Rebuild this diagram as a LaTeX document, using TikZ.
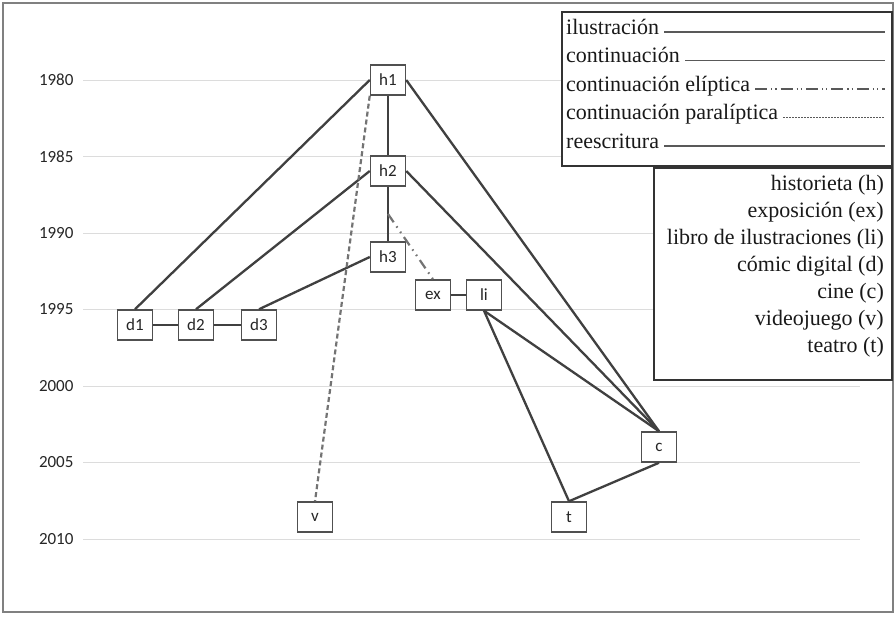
\documentclass[tikz,border=0pt]{standalone}
\usepackage{fontspec}
\setmainfont{Liberation Serif}
\newfontfamily\carl{Carlito}
\usetikzlibrary{calc}
\definecolor{edgec}{HTML}{404040}
\definecolor{gridc}{HTML}{DCDCDC}
\definecolor{boxc}{HTML}{505050}
\tikzset{
  yr/.style={anchor=east,font=\carl\fontsize{17}{17}\selectfont,text=black!85},
  gridl/.style={draw=gridc,line width=1pt},
  nd/.style={draw=boxc,line width=1.5pt,fill=white,minimum width=35pt,minimum height=30pt,inner sep=0pt,font=\carl\fontsize{17}{17}\selectfont,text=black!85},
  edge/.style={draw=edgec,line width=2.3pt},
  para/.style={draw=black!55,line width=2.2pt,dash pattern=on 5pt off 3pt},
  elip/.style={draw=black!55,line width=2.2pt,dash pattern=on 10pt off 5pt on 1.5pt off 5pt on 1.5pt off 5pt},
  legbox/.style={draw=black!80,line width=1.6pt,fill=white},
  legtxt/.style={font=\fontsize{22}{22}\selectfont,inner sep=0pt,text=black!90},
  legline/.style={draw=black!65,line width=1.5pt},
}
\begin{document}
\begin{tikzpicture}[x=1pt,y=-1pt]
\useasboundingbox (0,0) rectangle (896,616);
\fill[white] (0,0) rectangle (896,616);
\draw[black!50,line width=2pt] (3,3) rectangle (893,612);
% grid
\foreach \yy/\lab in {80/1980,156.5/1985,233/1990,309.5/1995,386/2000,462.5/2005,539/2010}{
  \draw[gridl] (83,\yy) -- (860,\yy);
  \node[yr] (y\lab) at (77,\yy) {\lab};
}
% legends
\draw[legbox] (562,12) rectangle (892,166);
\node[legtxt,anchor=mid west] (l1) at (566,32) {ilustración};
\node[legtxt,anchor=mid west] (l2) at (566,60.5) {continuación};
\node[legtxt,anchor=mid west] (l3) at (566,89) {continuación elíptica};
\node[legtxt,anchor=mid west] (l4) at (566,117.5) {continuación paralíptica};
\node[legtxt,anchor=mid west] (l5) at (566,146) {reescritura};
\coordinate (e1) at (885,32);
\coordinate (e2) at (885,60.5);
\coordinate (e3) at (885,89);
\coordinate (e4) at (885,117.5);
\coordinate (e5) at (885,146);
\draw[legline] ([xshift=5pt]l1.mid east) -- (e1);
\draw[legline] ([xshift=5pt]l2.mid east) -- (e2);
\draw[legline,dash pattern=on 12pt off 4pt on 1.2pt off 3pt on 1.2pt off 4pt] ([xshift=5pt]l3.mid east) -- (e3);
\draw[legline,line width=1pt,dash pattern=on 2pt off 1pt] ([xshift=5pt]l4.mid east) -- (e4);
\draw[legline] ([xshift=5pt]l5.mid east) -- (e5);
\draw[legbox] (654,168) rectangle (892,380);
\node[legtxt,anchor=mid east] (k1) at (884,188) {historieta (h)};
\node[legtxt,anchor=mid east] (k2) at (884,215) {exposición (ex)};
\node[legtxt,anchor=mid east] (k3) at (884,242) {libro de ilustraciones (li)};
\node[legtxt,anchor=mid east] (k4) at (884,269) {cómic digital (d)};
\node[legtxt,anchor=mid east] (k5) at (884,296) {cine (c)};
\node[legtxt,anchor=mid east] (k6) at (884,323) {videojuego (v)};
\node[legtxt,anchor=mid east] (k7) at (884,350) {teatro (t)};
% nodes
\node[nd] (h1) at (388,80) {h1};
\node[nd] (h2) at (388,171) {h2};
\node[nd] (h3) at (388,257) {h3};
\node[nd] (ex) at (433,295) {ex};
\node[nd] (li) at (484,295) {li};
\node[nd] (d1) at (135,325) {d1};
\node[nd] (d2) at (196,325) {d2};
\node[nd] (d3) at (259,325) {d3};
\node[nd] (v) at (315,517) {v};
\node[nd] (t) at (569,517) {t};
\node[nd] (c) at (659,447) {c};
% edges
\draw[edge] (d1.north) -- (h1.west);
\draw[edge] (d2.north) -- (h2.west);
\draw[edge] (d3.north) -- (h3.west);
\draw[edge] (d1) -- (d2);
\draw[edge] (d2) -- (d3);
\draw[edge] (h1) -- (h2);
\draw[edge] (h2) -- (h3);
\draw[edge] (ex) -- (li);
\draw[edge] (h1.east) -- (c.north);
\draw[edge] (h2.east) -- (c.north);
\draw[edge] (li.south) -- (c.north);
\draw[edge] (li.south) -- (t.north);
\draw[edge] (t.north) -- (c.south);
\draw[para] (h1.south west) -- (v.north);
\coordinate (m) at ($(h2.south)!0.5!(h3.north)$);
\draw[elip] (m) -- (ex.north);
\end{tikzpicture}
\end{document}
